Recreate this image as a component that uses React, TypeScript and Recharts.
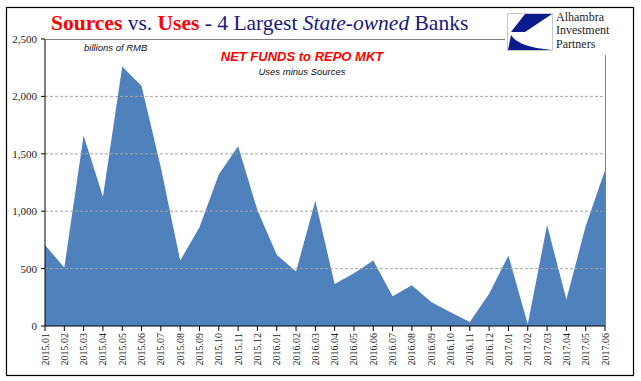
import { AreaChart, Area, XAxis, YAxis, ReferenceLine } from 'recharts';

// monthly net funds to repo market, billions of RMB (uses minus sources)
const months = [
  '2015.01', '2015.02', '2015.03', '2015.04', '2015.05', '2015.06', '2015.07', '2015.08', '2015.09', '2015.10',
  '2015.11', '2015.12', '2016.01', '2016.02', '2016.03', '2016.04', '2016.05', '2016.06', '2016.07', '2016.08',
  '2016.09', '2016.10', '2016.11', '2016.12', '2017.01', '2017.02', '2017.03', '2017.04', '2017.05', '2017.06',
];
const netFunds = [
  705, 510, 1660, 1125, 2260, 2090, 1380, 570, 860, 1320,
  1565, 1010, 620, 475, 1090, 365, 460, 570, 260, 355,
  210, 120, 35, 280, 615, 15, 880, 230, 870, 1355,
];
const yTicks = [0, 500, 1000, 1500, 2000, 2500];
const gridValues = [500, 1000, 1500, 2000];

const data = months.map((month, i) => ({ month, net: netFunds[i] }));

const NAVY = '#17177d';
const RED = '#ff0000';
const SERIF = '"Liberation Serif", "Times New Roman", serif';
const SANS = '"Liberation Sans", Arial, sans-serif';

const MonthTick = ({ x, y, payload }: any) => (
  <text
    x={x}
    y={y}
    dy={3.5}
    transform={`rotate(-90, ${x}, ${y})`}
    textAnchor="end"
    fontFamily={SERIF}
    fontSize={10}
    fill="#222"
  >
    {payload.value}
  </text>
);

const Overlay = () => (
  <svg
    width={641}
    height={381}
    style={{ position: 'absolute', left: 0, top: 0, pointerEvents: 'none' }}
  >
    <rect x={6.5} y={7.5} width={627} height={368} fill="none" stroke="#000" strokeWidth={1.2} />
    <line x1={45} y1={39.5} x2={505} y2={39.5} stroke="#808080" strokeWidth={1} />
    <line x1={605.5} y1={55} x2={605.5} y2={326} stroke="#808080" strokeWidth={1} />

    <text x={51} y={30} fontFamily={SERIF} fontSize={21.5} fill={NAVY}>
      <tspan fill={RED} fontWeight="bold">Sources</tspan>
      <tspan>{' vs. '}</tspan>
      <tspan fill={RED} fontWeight="bold">Uses</tspan>
      <tspan>{' - 4 Largest '}</tspan>
      <tspan fontStyle="italic">State-owned</tspan>
      <tspan>{' Banks'}</tspan>
    </text>

    {/* logo */}
    <rect x={507.5} y={13.5} width={45} height={37} fill="#fff" stroke="#c8c8c8" strokeWidth={1} />
    <path d="M 525 14 L 552 14 L 525 32 L 511 32 Z" fill="#0b1a8c" />
    <path d="M 511 35 Q 518 47 552 50 L 508 50 Z" fill="#0b1a8c" />
    <text fontFamily={SERIF} fontSize={12} fill="#222">
      <tspan x={556} y={20.5}>Alhambra</tspan>
      <tspan x={556} y={34}>Investment</tspan>
      <tspan x={556} y={47.5}>Partners</tspan>
    </text>

    <text x={84} y={51} fontFamily={SANS} fontSize={9.5} fontStyle="italic" fill="#111">
      billions of RMB
    </text>
    <text x={302} y={61} textAnchor="middle" fontFamily={SANS} fontSize={13} fontStyle="italic" fontWeight="bold" fill={RED}>
      NET FUNDS to REPO MKT
    </text>
    <text x={302} y={75} textAnchor="middle" fontFamily={SANS} fontSize={9.5} fontStyle="italic" fill="#111">
      Uses minus Sources
    </text>
  </svg>
);

export default function App() {
  return (
    <div style={{ position: 'absolute', left: 0, top: 0, width: 641, height: 381, background: '#fff' }}>
      <AreaChart width={641} height={381} data={data} margin={{ top: 39, right: 36, left: 0, bottom: 0 }}>
        <XAxis
          dataKey="month"
          interval={0}
          height={55}
          tickSize={5}
          tickMargin={2}
          tick={<MonthTick />}
          axisLine={{ stroke: '#000' }}
          tickLine={{ stroke: '#000' }}
        />
        <YAxis
          width={45}
          domain={[0, 2500]}
          ticks={yTicks}
          tickSize={4}
          tickMargin={4}
          tickFormatter={(v: number) => v.toLocaleString('en-US')}
          tick={{ fontFamily: SERIF, fontSize: 11, fill: '#222' }}
          axisLine={{ stroke: '#000' }}
          tickLine={{ stroke: '#000' }}
        />
        {gridValues.map((v) => (
          <ReferenceLine key={v} y={v} stroke="#a6a6a6" strokeDasharray="3 2" />
        ))}
        <Area
          type="linear"
          dataKey="net"
          fill="#4f81bd"
          fillOpacity={1}
          stroke="none"
          isAnimationActive={false}
        />
      </AreaChart>
      <Overlay />
    </div>
  );
}
